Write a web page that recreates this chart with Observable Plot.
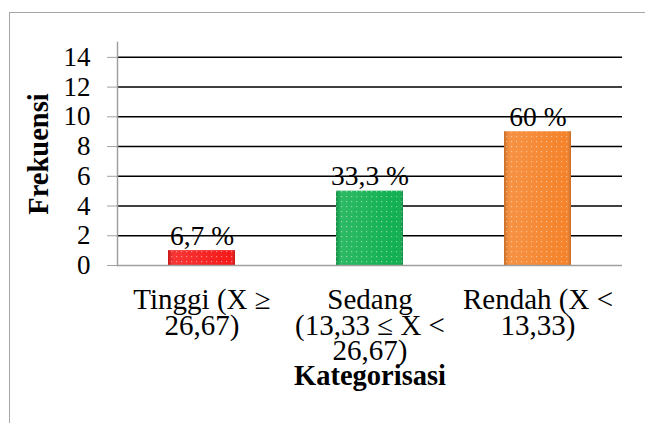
<!DOCTYPE html>
<html><head><meta charset="utf-8">
<script src="https://cdn.jsdelivr.net/npm/d3@7"></script>
<script src="https://cdn.jsdelivr.net/npm/@observablehq/plot@0.6"></script>
<style>
body{margin:0;overflow:hidden;background:#fff;}
#frame{position:absolute;left:9px;top:12px;width:700px;height:500px;border-left:1.5px solid #a6a6a6;border-top:1.5px solid #a6a6a6;}
#chart{position:absolute;left:0;top:0;}
</style>
</head><body><div id="frame"></div><div id="chart"></div>
<script>
const categories = ["Tinggi (X ≥\n26,67)", "Sedang\n(13,33 ≤ X <\n26,67)", "Rendah (X <\n13,33)"];
const frequencies = [1, 5, 9];
const percentLabels = ["6,7 %", "33,3 %", "60 %"];
const barColors = ["#f51a1a", "#10b050", "#f5832a"];
const yTicks = [0, 2, 4, 6, 8, 10, 12, 14];
const xTitle = "Kategorisasi";
const yTitle = "Frekuensi";

const data = categories.map((c, i) => ({category: c, value: frequencies[i], label: percentLabels[i], color: barColors[i]}));

function defs() {
  const ns = "http://www.w3.org/2000/svg";
  const d = document.createElementNS(ns, "defs");
  d.innerHTML = `<pattern id="dots" width="5" height="5" patternUnits="userSpaceOnUse">
      <rect x="1" y="1" width="1.2" height="1.2" fill="#fff" fill-opacity="0.45"/>
    </pattern>
    <linearGradient id="bevelH" x1="0" x2="1" y1="0" y2="0">
      <stop offset="0" stop-color="#000" stop-opacity="0.18"/>
      <stop offset="0.08" stop-color="#fff" stop-opacity="0.12"/>
      <stop offset="0.92" stop-color="#fff" stop-opacity="0.0"/>
      <stop offset="1" stop-color="#000" stop-opacity="0.2"/>
    </linearGradient>`;
  return d;
}

const chart = Plot.plot({
  width: 645, height: 423,
  marginLeft: 117, marginRight: 23, marginTop: 42, marginBottom: 158,
  style: {fontFamily: "'Liberation Serif', 'Times New Roman', serif", fontSize: "27px", color: "#000", background: "transparent", overflow: "visible"},
  x: {domain: categories, paddingInner: 0.6, paddingOuter: 0.3, label: null},
  y: {domain: [0, 15], label: null},
  marks: [
    defs,
    Plot.ruleY(yTicks.filter(d => d > 0), {stroke: "#000", strokeWidth: 1.5}),
    Plot.barY(data, {x: "category", y: "value", fill: "color"}),
    Plot.barY(data, {x: "category", y: "value", fill: "url(#dots)"}),
    Plot.barY(data, {x: "category", y: "value", fill: "url(#bevelH)"}),
    Plot.ruleY([0], {stroke: "#a0a0a0", strokeWidth: 1.5}),
    Plot.frame({anchor: "left", stroke: "#a0a0a0", strokeWidth: 1.5}),
    Plot.axisY({ticks: yTicks, tickSize: 10, tickPadding: 17, stroke: "#a0a0a0", fontSize: 27, label: null}),
    Plot.axisX({tickSize: 0, tickPadding: 26, lineHeight: 0.87, fontSize: 29, label: null}),
    Plot.text(data, {x: "category", y: "value", text: "label", lineAnchor: "bottom", dy: -6, fontSize: 27.5}),
    Plot.text([xTitle], {frameAnchor: "bottom", lineAnchor: "bottom", dy: 119, fontWeight: "bold", fontSize: 28.5}),
    Plot.text([yTitle], {frameAnchor: "middle", textAnchor: "middle", lineAnchor: "middle", rotate: -90, dx: -331, fontWeight: "bold", fontSize: 28.5})
  ]
});
document.getElementById("chart").append(chart);
</script>
</body></html>
